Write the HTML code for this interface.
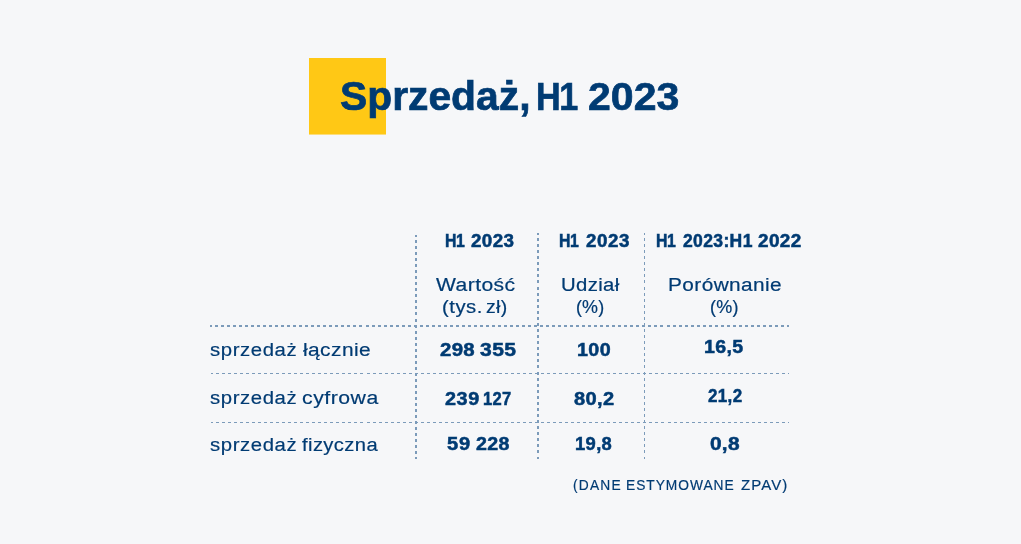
<!DOCTYPE html>
<html lang="pl">
<head>
<meta charset="utf-8">
<title>Sprzedaż, H1 2023</title>
<style>
html,body{margin:0;padding:0}
body{width:1021px;height:544px;background:#f6f7f9;overflow:hidden;position:relative;font-family:"Liberation Sans", sans-serif;color:#003b73}
.g{position:absolute;left:0;top:0;width:0;height:0;margin:0;padding:0;font-weight:400;line-height:1;white-space:nowrap;-webkit-text-stroke:0.2px #003b73}
.g.b{font-weight:700;-webkit-text-stroke:0.5px #003b73}
.g span{position:absolute;top:0;transform-origin:0 0;white-space:nowrap}
.sq{position:absolute;left:309px;top:58px;width:77px;height:76px;background:#ffc815;box-shadow:0 1px 0 rgba(255,200,21,.55)}
.ln{position:absolute}
</style>
</head>
<body>
<div class="sq"></div>
<svg class="ln" width="1021" height="544" viewBox="0 0 1021 544" style="left:0;top:0" fill="none" stroke="#7c9bba" shape-rendering="crispEdges">
<line x1="210" y1="326" x2="789" y2="326" stroke-width="2" stroke-dasharray="3 3.02" stroke-dashoffset="1.02"/>
<line x1="211" y1="373.5" x2="789" y2="373.5" stroke-width="1" stroke-dasharray="3 3.02" stroke-dashoffset="1.02"/>
<line x1="211" y1="422.5" x2="789" y2="422.5" stroke-width="1" stroke-dasharray="3 3.02" stroke-dashoffset="1.02"/>
<line x1="416" y1="235" x2="416" y2="459" stroke-width="2" stroke-dasharray="3 3.04" stroke-dashoffset="1.04"/>
<line x1="538" y1="233" x2="538" y2="459" stroke-width="2" stroke-dasharray="3 3.07" stroke-dashoffset="1.07"/>
<line x1="644.5" y1="233" x2="644.5" y2="459" stroke-width="1" stroke-dasharray="3 3.07" stroke-dashoffset="1.07"/>
</svg>
<h1 class="g b" id="title" style="top:77px;font-size:39.2px;-webkit-text-stroke-width:0.7px"><span style="left:339.58px;letter-spacing:0.000px;transform:scaleX(1.0201);font-size:40.0px;top:-1px">Sprzedaż,</span> <span style="left:536.30px;letter-spacing:-1.646px;transform:scaleX(0.87)">H1</span> <span style="left:587.75px;letter-spacing:0.057px;transform:scaleX(1.0459)">2023</span></h1>
<div class="g b" id="h1" style="top:233px;font-size:17.6px"><span style="left:445.17px;letter-spacing:-0.528px;transform:scaleX(0.9)">H1</span> <span style="left:471.30px;letter-spacing:0.352px;transform:scaleX(1.069)">2023</span></div>
<div class="g b" id="h2" style="top:233px;font-size:17.6px"><span style="left:559.42px;letter-spacing:-0.528px;transform:scaleX(0.9)">H1</span> <span style="left:585.84px;letter-spacing:0.540px;transform:scaleX(1.0641)">2023</span></div>
<div class="g b" id="h3" style="top:233px;font-size:17.6px"><span style="left:655.62px;letter-spacing:-0.528px;transform:scaleX(0.9)">H1</span> <span style="left:682.60px;letter-spacing:0.352px;transform:scaleX(0.9969)">2023:H1</span> <span style="left:757.80px;letter-spacing:0.352px;transform:scaleX(1.0765)">2022</span></div>
<div class="g" id="s1a" style="top:276px;font-size:18.0px"><span style="left:435.60px;letter-spacing:0.360px;transform:scaleX(1.1719)">Wartość</span></div>
<div class="g" id="s1b" style="top:298px;font-size:18.0px"><span style="left:441.87px;letter-spacing:0.453px;transform:scaleX(1.1276)">(tys.</span> <span style="left:486.20px;letter-spacing:0.360px;transform:scaleX(1.0791)">zł)</span></div>
<div class="g" id="s2a" style="top:276px;font-size:18.0px"><span style="left:560.81px;letter-spacing:0.317px;transform:scaleX(1.1275)">Udział</span></div>
<div class="g" id="s2b" style="top:298px;font-size:18.0px"><span style="left:575.56px;letter-spacing:0.119px;transform:scaleX(0.9955)">(%)</span></div>
<div class="g" id="s3a" style="top:276px;font-size:18.0px"><span style="left:667.74px;letter-spacing:0.360px;transform:scaleX(1.1563)">Porównanie</span></div>
<div class="g" id="s3b" style="top:298px;font-size:18.0px"><span style="left:710.20px;letter-spacing:0.270px;transform:scaleX(0.9993)">(%)</span></div>
<div class="g" id="r1" style="top:340px;font-size:19.2px"><span style="left:210.12px;letter-spacing:0.554px;transform:scaleX(1.0594)">sprzedaż</span> <span style="left:303.00px;letter-spacing:0.384px;transform:scaleX(1.0903)">łącznie</span></div>
<div class="g" id="r2" style="top:388px;font-size:19.2px"><span style="left:210.12px;letter-spacing:0.554px;transform:scaleX(1.0594)">sprzedaż</span> <span style="left:302.40px;letter-spacing:0.474px;transform:scaleX(1.1056)">cyfrowa</span></div>
<div class="g" id="r3" style="top:435px;font-size:19.2px"><span style="left:210.12px;letter-spacing:0.554px;transform:scaleX(1.0594)">sprzedaż</span> <span style="left:302.40px;letter-spacing:0.384px;transform:scaleX(1.0508)">fizyczna</span></div>
<div class="g b" id="n11" style="top:341px;font-size:18.4px"><span style="left:439.52px;letter-spacing:0.260px;transform:scaleX(1.1093)">298</span> <span style="left:480.00px;letter-spacing:0.368px;transform:scaleX(1.1445)">355</span></div>
<div class="g b" id="n21" style="top:390px;font-size:18.4px"><span style="left:445.00px;letter-spacing:0.535px;transform:scaleX(1.0772)">239</span> <span style="left:483.26px;letter-spacing:0.339px;transform:scaleX(0.9)">127</span></div>
<div class="g b" id="n31" style="top:435px;font-size:18.4px"><span style="left:447.40px;letter-spacing:0.643px;transform:scaleX(1.0924)">59</span> <span style="left:475.80px;letter-spacing:0.368px;transform:scaleX(1.0676)">228</span></div>
<div class="g b" id="n12" style="top:341px;font-size:18.4px"><span style="left:576.73px;letter-spacing:0.368px;transform:scaleX(1.0698)">100</span></div>
<div class="g b" id="n22" style="top:390px;font-size:18.4px"><span style="left:574.20px;letter-spacing:0.368px;transform:scaleX(1.0908)">80,2</span></div>
<div class="g b" id="n32" style="top:435px;font-size:18.4px"><span style="left:574.90px;letter-spacing:0.368px;transform:scaleX(0.9981)">19,8</span></div>
<div class="g b" id="n13" style="top:338px;font-size:18.4px"><span style="left:704.04px;letter-spacing:0.368px;transform:scaleX(1.0625)">16,5</span></div>
<div class="g b" id="n23" style="top:387px;font-size:18.4px"><span style="left:707.80px;letter-spacing:0.368px;transform:scaleX(0.9245)">21,2</span></div>
<div class="g b" id="n33" style="top:435px;font-size:18.4px"><span style="left:709.84px;letter-spacing:0.209px;transform:scaleX(1.1353)">0,8</span></div>
<div class="g" id="foot" style="top:477px;font-size:15.3px"><span style="left:572.76px;letter-spacing:1.337px;transform:scaleX(0.9018)">(DANE</span> <span style="left:626.00px;letter-spacing:1.071px;transform:scaleX(0.9007)">ESTYMOWANE</span> <span style="left:740.70px;letter-spacing:1.071px;transform:scaleX(0.9816)">ZPAV)</span></div>
</body>
</html>
